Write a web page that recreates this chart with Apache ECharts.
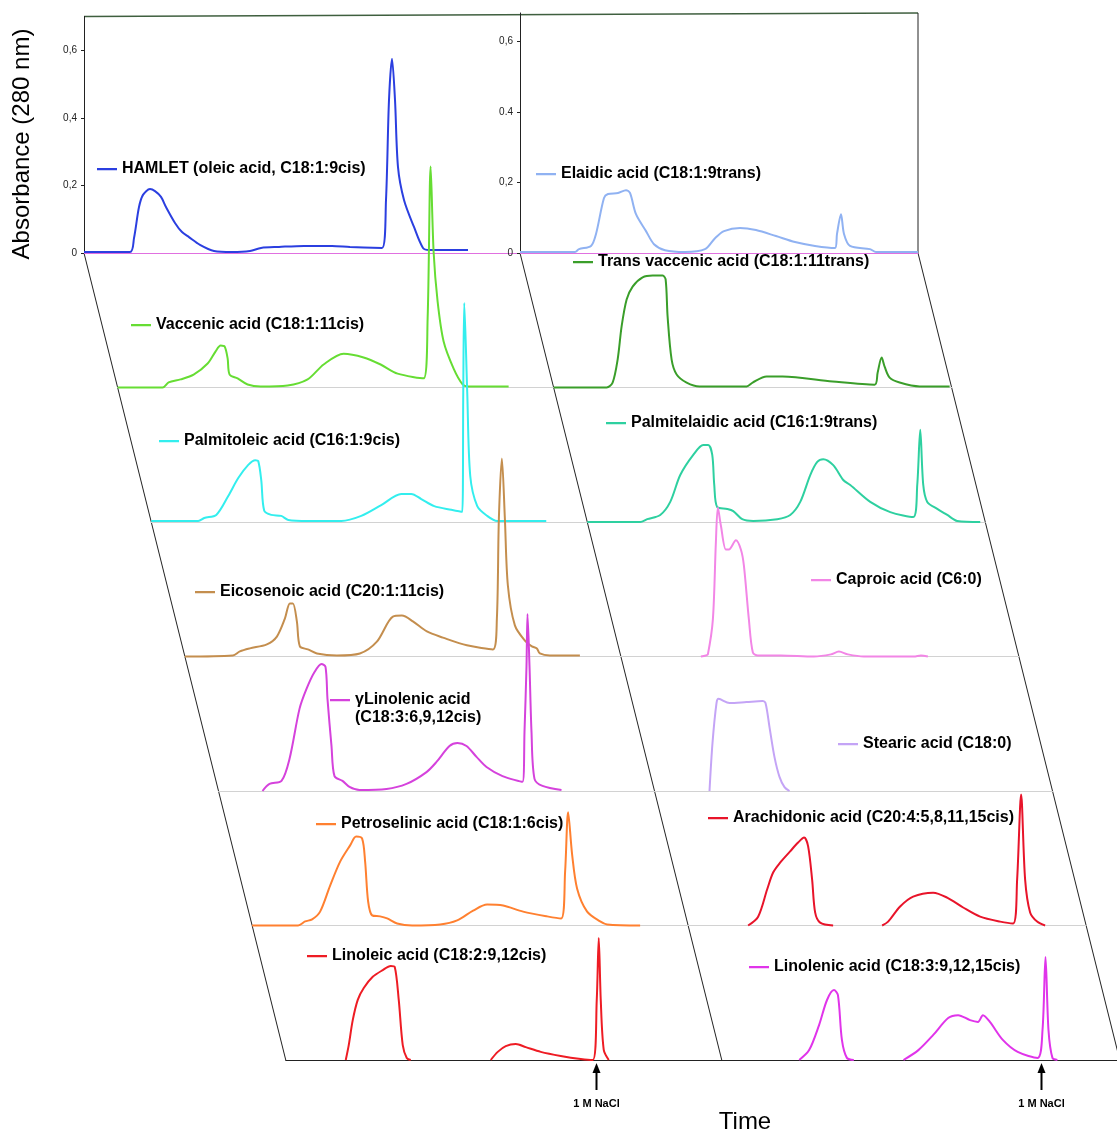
<!DOCTYPE html>
<html><head><meta charset="utf-8">
<script src="https://cdn.jsdelivr.net/npm/echarts/dist/echarts.min.js"></script>
<style>html,body{margin:0;padding:0;background:#fff}#c{width:1117px;height:1131px}</style>
</head><body><div id="c"></div>
<script>
// ---------------- DATA (time units, absorbance at 280 nm) ----------------
const hamlet = [[0,0.003],[46,0.003],[50,0.044],[55,0.136],[59,0.172],[66,0.189],[71,0.183],[77,0.166],[82,0.136],[91,0.089],[98,0.062],[105,0.047],[116,0.024],[130,0.006],[148,0.003],[166,0.006],[177,0.015],[195,0.018],[220,0.021],[248,0.021],[266,0.018],[298,0.015],[302,0.157],[305,0.453],[308,0.575],[311,0.453],[314,0.254],[320,0.157],[330,0.077],[339,0.015],[345,0.009],[384,0.009]];
const vaccenic = [[0,0],[45,0],[51,0.015],[63,0.024],[76,0.038],[90,0.071],[98,0.107],[103,0.124],[107,0.121],[110,0.086],[112,0.038],[120,0.027],[130,0.009],[143,0.003],[170,0.006],[190,0.024],[206,0.068],[226,0.1],[246,0.089],[263,0.068],[280,0.041],[306,0.027],[310,0.204],[313,0.654],[316,0.4],[320,0.254],[326,0.136],[336,0.056],[345,0.009],[350,0.003],[391,0.003]];
const palmitoleic = [[0,0.003],[47,0.003],[53,0.012],[65,0.021],[77,0.077],[87,0.130],[97,0.169],[104,0.183],[107,0.180],[110,0.124],[113,0.033],[120,0.021],[130,0.018],[137,0.006],[157,0.003],[190,0.003],[210,0.018],[230,0.050],[250,0.083],[260,0.083],[270,0.068],[283,0.047],[300,0.036],[311,0.030],[312,0.382],[313,0.648],[316,0.382],[319,0.136],[326,0.047],[336,0.018],[346,0.003],[395,0.003]];
const eicosenoic = [[0,0],[48,0.003],[55,0.015],[65,0.024],[82,0.036],[92,0.059],[100,0.112],[105,0.157],[108,0.157],[112,0.104],[115,0.03],[123,0.021],[132,0.009],[152,0.003],[175,0.009],[192,0.044],[208,0.118],[217,0.121],[228,0.104],[242,0.074],[258,0.056],[282,0.033],[308,0.021],[312,0.112],[314,0.408],[317,0.586],[320,0.408],[323,0.210],[330,0.092],[340,0.047],[347,0.030],[352,0.024],[355,0.009],[365,0.003],[395,0.003]];
const gammaLinolenic = [[44,0],[51,0.021],[63,0.030],[71,0.095],[81,0.243],[88,0.302],[96,0.352],[103,0.376],[107,0.367],[109,0.272],[113,0.133],[116,0.044],[124,0.030],[131,0.012],[141,0.003],[168,0.006],[188,0.021],[208,0.056],[218,0.086],[231,0.133],[239,0.142],[248,0.133],[258,0.101],[268,0.071],[284,0.044],[304,0.027],[306,0.175],[308,0.370],[309,0.524],[311,0.370],[313,0.175],[316,0.036],[324,0.015],[343,0.003]];
const petroselinic = [[0,0],[46,0],[53,0.012],[60,0.018],[68,0.041],[78,0.118],[88,0.189],[98,0.237],[104,0.263],[110,0.257],[113,0.189],[116,0.071],[120,0.030],[128,0.027],[135,0.021],[145,0.006],[160,0],[188,0.003],[205,0.015],[221,0.044],[235,0.062],[251,0.059],[271,0.041],[295,0.027],[309,0.021],[313,0.160],[316,0.335],[320,0.210],[325,0.109],[335,0.041],[348,0.012],[355,0.003],[388,0]];
const linoleic = [[60,0],[63,0.044],[67,0.118],[72,0.178],[78,0.213],[87,0.246],[97,0.266],[105,0.278],[109,0.275],[113,0.178],[117,0.044],[121,0.006],[125,0],'-',[205,0],[212,0.024],[220,0.041],[230,0.047],[240,0.038],[255,0.024],[275,0.012],[295,0.003],[307,0],[311,0.178],[313,0.361],[315,0.178],[318,0.03],[323,0]];

const elaidic = [[0,0.003],[55,0.003],[59,0.011],[71,0.02],[76,0.054],[84,0.156],[88,0.167],[98,0.17],[106,0.178],[110,0.17],[116,0.11],[126,0.062],[134,0.025],[145,0.008],[165,0.003],[185,0.011],[195,0.042],[204,0.062],[220,0.071],[236,0.065],[256,0.048],[275,0.031],[295,0.02],[315,0.014],[317,0.054],[321,0.11],[324,0.054],[330,0.02],[350,0.011],[356,0.003],[398,0.003]];
const transVaccenic = [[0,0],[53,0],[59,0.014],[64,0.079],[68,0.173],[73,0.249],[79,0.286],[89,0.312],[99,0.317],[109,0.317],[112,0.306],[114,0.2],[118,0.079],[123,0.037],[133,0.014],[146,0.003],[193,0.003],[199,0.014],[213,0.031],[229,0.031],[279,0.017],[321,0.008],[324,0.042],[328,0.085],[331,0.059],[336,0.028],[346,0.014],[366,0.003],[396,0.003]];
const palmitelaidic = [[0,0],[53,0],[60,0.008],[73,0.02],[83,0.057],[93,0.133],[106,0.190],[116,0.218],[121,0.218],[125,0.19],[127,0.105],[130,0.042],[140,0.037],[146,0.031],[155,0.008],[166,0.003],[190,0.008],[203,0.02],[213,0.057],[223,0.133],[230,0.170],[236,0.178],[246,0.161],[256,0.119],[263,0.105],[283,0.057],[303,0.028],[326,0.014],[330,0.105],[333,0.261],[336,0.105],[340,0.057],[350,0.037],[360,0.02],[370,0.003],[393,0]];
const caproic = [[80,0],[85,0.003],[87,0.006],[92,0.105],[95,0.323],[97,0.422],[100,0.371],[105,0.303],[108,0.303],[115,0.329],[120,0.303],[123,0.258],[128,0.105],[132,0.011],[137,0.003],[160,0.003],[193,0],[210,0.006],[218,0.014],[227,0.006],[243,0],[293,0],[300,0.003],[307,0]];
const stearic = [[55,0],[58,0.136],[62,0.249],[64,0.261],[75,0.249],[92,0.252],[108,0.255],[111,0.249],[115,0.181],[120,0.096],[125,0.040],[130,0.011],[135,0]];
const arachidonic = [[60,0],[70,0.025],[79,0.102],[85,0.150],[92,0.178],[102,0.210],[110,0.235],[116,0.249],[120,0.224],[124,0.130],[127,0.037],[132,0.008],[145,0],'-',[194,0],[200,0.011],[212,0.054],[225,0.082],[245,0.093],[259,0.079],[275,0.051],[292,0.025],[312,0.011],[325,0.006],[329,0.130],[333,0.371],[337,0.130],[342,0.037],[349,0.011],[357,0]];
const linolenic = [[78,0],[88,0.028],[98,0.099],[106,0.170],[113,0.198],[117,0.184],[121,0.057],[126,0.006],[133,0],'-',[183,0],[198,0.028],[213,0.071],[228,0.119],[238,0.127],[250,0.113],[258,0.108],[263,0.127],[270,0.108],[283,0.057],[298,0.023],[318,0.006],[323,0.085],[326,0.292],[329,0.085],[333,0.006],[338,0]];

const leftNames = ['HAMLET (oleic acid, C18:1:9cis)','Vaccenic acid (C18:1:11cis)','Palmitoleic acid (C16:1:9cis)','Eicosenoic acid (C20:1:11cis)','γLinolenic acid\n(C18:3:6,9,12cis)','Petroselinic acid (C18:1:6cis)','Linoleic acid (C18:2:9,12cis)'];
const rightNames = ['Elaidic acid (C18:1:9trans)','Trans vaccenic acid (C18:1:11trans)','Palmitelaidic acid (C16:1:9trans)','Caproic acid (C6:0)','Stearic acid (C18:0)','Arachidonic acid (C20:4:5,8,11,15cis)','Linolenic acid (C18:3:9,12,15cis)'];
const leftData = [hamlet, vaccenic, palmitoleic, eicosenoic, gammaLinolenic, petroselinic, linoleic];
const rightData = [elaidic, transVaccenic, palmitelaidic, caproic, stearic, arachidonic, linolenic];
const leftColors = ['#2b3fe0','#66dd33','#33eeee','#c48e4e','#d542dc','#ff8030','#ee1c24'];
const rightColors = ['#90b2f2','#3a9e2a','#2ed0a0','#f286e6','#c4a4f6','#e8142a','#e034ea'];

const yTicks = [0, 0.2, 0.4, 0.6];
const leftTickLabels = ['0','0,2','0,4','0,6'];
const rightTickLabels = ['0','0,2','0.4','0,6'];
const naclTimes = [310, 321];

// ---------------- LAYOUT ----------------
const FONT = "'Liberation Sans', Arial, sans-serif";
const L = {colX:[84,520], rightEdge:918, base0:253, step:134.5, skew:0.25, width:[436,398], pxPerUnit:[338,353], yMax:[0.7,0.68]};
const legendPos = [
  [[122,169],[156,325],[184,441],[220,592],[355,700],[341,824],[332,956]],
  [[561,174],[598,262],[631,423],[836,580],[863,744],[733,818],[774,967]]
];

const names = [leftNames, rightNames], datas = [leftData, rightData], colors = [leftColors, rightColors], tickLabels = [leftTickLabels, rightTickLabels];

const grid = [], xAxis = [], yAxis = [], series = [], legend = [];
for (let c = 0; c < 2; c++) {
  for (let r = 0; r < 7; r++) {
    const k = grid.length;
    const base = L.base0 + r * L.step;
    const h = L.yMax[c] * L.pxPerUnit[c];
    grid.push({left: L.colX[c] + L.skew * (base - L.base0), top: base - h, width: L.width[c], height: h, containLabel: false});
    const lineColor = r === 0 ? '#e070e0' : (r === 6 ? '#222' : '#d2d2d2');
    xAxis.push({type:'value', gridIndex:k, min:0, max:L.width[c], axisLine:{show:true, onZero:false, lineStyle:{color:lineColor, width: r === 6 ? 1.2 : 1}}, axisTick:{show:false}, axisLabel:{show:false}, splitLine:{show:false}});
    const labels = tickLabels[c];
    yAxis.push({type:'value', gridIndex:k, min:0, max:L.yMax[c], interval:0.2, show: r === 0,
      axisLine:{show:true, lineStyle:{color:'#222', width:1}},
      axisTick:{show:true, length:3, lineStyle:{color:'#222'}},
      axisLabel:{show:true, fontSize:10, color:'#222', fontFamily:FONT, margin:7, showMaxLabel:false,
        formatter: v => { const i = yTicks.findIndex(t => Math.abs(t - v) < 1e-6); return i >= 0 ? labels[i] : ''; }},
      splitLine:{show:false}});
    const nm = names[c][r];
    series.push({type:'line', name:nm, xAxisIndex:k, yAxisIndex:k, data:datas[c][r], symbol:'none', showSymbol:false,
      smooth:0.3, clip:false, connectNulls:false,
      lineStyle:{color:colors[c][r], width:2}, itemStyle:{color:colors[c][r]}, z: 2 + k});
    const [tx, cy] = legendPos[c][r];
    const twoLine = nm.indexOf('\n') >= 0;
    const lg = {data:[nm], left: tx - 25, top: cy - 9, padding:0, itemGap:0, itemWidth:20, itemHeight:14,
      icon:'path://M0 6H20V8.2H0Z M0 0H0.02V0.02H0Z M0 13.98H0.02V14H0Z',
      selectedMode:false, textStyle:{fontSize:16, fontWeight:'bold', color:'#000', fontFamily:FONT, lineHeight:18}};
    if (twoLine) { lg.itemHeight = 36; lg.icon = 'path://M0 0H0.02V0.02H0Z M0 8H20V10.2H0Z M0 35.98H0.02V36H0Z'; }
    legend.push(lg);
  }
}

const chart = echarts.init(document.getElementById('c'), null, {renderer:'canvas'});
chart.setOption({animation:false, backgroundColor:'#fff', grid, xAxis, yAxis, series, legend});

// frame lines and annotation (computed from layout constants)
const baseLast = L.base0 + 6 * L.step;
const dx = L.skew * (baseLast - L.base0);
const topL = L.base0 - L.yMax[0] * L.pxPerUnit[0];
const topR = L.base0 - L.yMax[1] * L.pxPerUnit[1];
const frame = {stroke:'#222', lineWidth:1};
const graphic = [
  {type:'line', shape:{x1:L.colX[0], y1:topL, x2:L.rightEdge, y2:topR}, style:{stroke:'#3f5f3f', lineWidth:1.5}},
  {type:'line', shape:{x1:L.rightEdge, y1:topR, x2:L.rightEdge, y2:L.base0}, style:frame},
  {type:'line', shape:{x1:L.colX[0], y1:L.base0, x2:L.colX[0] + dx, y2:baseLast}, style:frame},
  {type:'line', shape:{x1:L.colX[1], y1:L.base0, x2:L.colX[1] + dx, y2:baseLast}, style:frame},
  {type:'line', shape:{x1:L.rightEdge, y1:L.base0, x2:L.rightEdge + dx, y2:baseLast}, style:frame},
  {type:'text', x:22, y:144, rotation:Math.PI/2, style:{text:'Absorbance (280 nm)', fontSize:24, fontFamily:FONT, fill:'#000', align:'center', verticalAlign:'middle'}},
  {type:'text', x:745, y:1122, style:{text:'Time', fontSize:24, fontFamily:FONT, fill:'#000', align:'center', verticalAlign:'middle'}}
];
naclTimes.forEach((t, c) => {
  const p = chart.convertToPixel({gridIndex: c * 7 + 6}, [t, 0]);
  const x = Math.round(p[0]) + 0.5;
  graphic.push({type:'line', shape:{x1:x, y1:p[1] + 10, x2:x, y2:p[1] + 30}, style:{stroke:'#000', lineWidth:2}});
  graphic.push({type:'polygon', shape:{points:[[x, p[1] + 3],[x - 4, p[1] + 13],[x + 4, p[1] + 13]]}, style:{fill:'#000'}});
  graphic.push({type:'text', x:x, y:p[1] + 44, style:{text:'1 M NaCl', fontSize:11, fontWeight:'bold', fontFamily:FONT, fill:'#000', align:'center', verticalAlign:'middle'}});
});
chart.setOption({graphic});
</script>
</body></html>
